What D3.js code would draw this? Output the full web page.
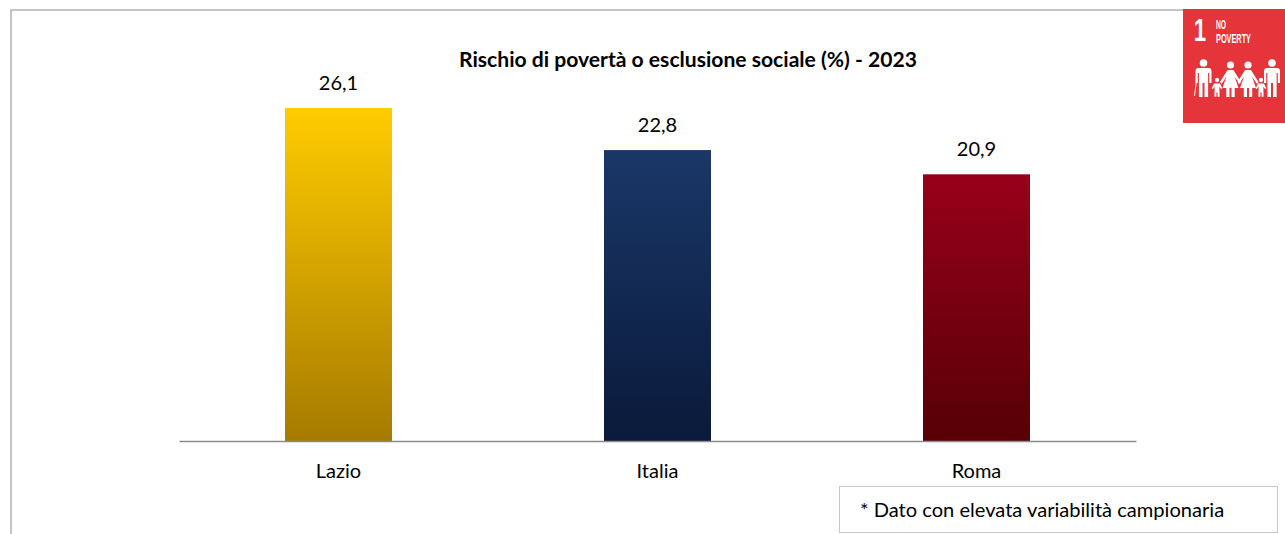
<!DOCTYPE html>
<html><head><meta charset="utf-8">
<script src="https://cdn.jsdelivr.net/npm/d3@7"></script>
<style>html,body{margin:0;padding:0;background:#fff}svg{display:block}text{font-family:Lato,Carlito,sans-serif}</style>
</head><body><svg id="c" width="1285" height="534"></svg>
<script>
const categories = ["Lazio","Italia","Roma"];
const values = [26.1,22.8,20.9];
const valueLabels = ["26,1","22,8","20,9"];
const topColors = ["#FFCC00","#1A3768","#98001A"];
const bottomColors = ["#A67A00","#0A1A3A","#560005"];
const chartTitle = "Rischio di povertà o esclusione sociale (%) - 2023";
const noteText = "* Dato con elevata variabilità campionaria";

const svg = d3.select("#c");
const x = d3.scaleBand().domain(categories).range([179,1136]).paddingInner(0.6646).paddingOuter(0.3323);
const y = d3.scaleLinear().domain([0,30]).range([441,58.2]);

const defs = svg.append("defs");
categories.forEach((c,i)=>{
  const g = defs.append("linearGradient").attr("id","g"+i).attr("x1",0).attr("y1",0).attr("x2",0).attr("y2",1);
  g.append("stop").attr("offset","0%").attr("stop-color",topColors[i]);
  g.append("stop").attr("offset","100%").attr("stop-color",bottomColors[i]);
});

// outer frame
svg.append("path").attr("d","M11 534V10H1183").attr("fill","none").attr("stroke","#c4c4c4").attr("stroke-width",2);

// title
svg.append("text").attr("x",688).attr("y",66.5).attr("text-anchor","middle")
  .attr("font-size",21.1).attr("font-weight",700).attr("fill","#000").text(chartTitle);

// bars
svg.selectAll("rect.bar").data(values).join("rect").attr("class","bar")
  .attr("x",(d,i)=>x(categories[i])).attr("width",x.bandwidth())
  .attr("y",d=>y(d)).attr("height",d=>y(0)-y(d))
  .attr("fill",(d,i)=>`url(#g${i})`);

// value labels
svg.selectAll("text.val").data(values).join("text").attr("class","val")
  .attr("x",(d,i)=>x(categories[i])+x.bandwidth()/2).attr("y",d=>y(d)-18)
  .attr("text-anchor","middle").attr("font-size",20).attr("fill","#000")
  .text((d,i)=>valueLabels[i]);

// axis
const axis = svg.append("g").attr("transform",`translate(0,${y(0)})`).call(d3.axisBottom(x).tickSize(0).tickPadding(23));
axis.select(".domain").attr("stroke","#8c8c8c").attr("stroke-width",1.5);
axis.selectAll("text").attr("font-size",20).attr("fill","#000").style("font-family","Lato,Carlito,sans-serif");

// note box
svg.append("rect").attr("x",839.5).attr("y",486.5).attr("width",438).attr("height",46).attr("fill","#fff").attr("stroke","#c8c8c8").attr("stroke-width",1);
svg.append("text").attr("x",860).attr("y",517).attr("font-size",20.1).attr("fill","#000").text(noteText);

// SDG icon
const icon = svg.append("g");
icon.append("rect").attr("x",1183).attr("y",9).attr("width",102).attr("height",114).attr("fill","#E5343A");
icon.append("text").attr("transform","translate(1200,41) scale(0.72,1)").attr("text-anchor","middle").attr("font-size",31).attr("font-weight",700)
  .attr("fill","#fff").style("font-family","'Liberation Sans',sans-serif").text("1");
icon.selectAll("text.nm").data(["NO","POVERTY"]).join("text").attr("class","nm")
  .attr("x",1216).attr("y",(d,i)=>i?43:29).attr("font-size",12.5).attr("font-weight",700).attr("fill","#fff")
  .attr("textLength",(d,i)=>i?35:10).attr("lengthAdjust","spacingAndGlyphs")
  .style("font-family","'Liberation Sans Narrow','Liberation Sans',sans-serif").text(d=>d);

// family figures: [cx, headY, scale, kind]
const people = [[1203.5,63,1,"m"],[1217,80,.6,"c"],[1230.5,65,1,"w"],[1248,65,1,"w"],[1261,80,.6,"c"],[1272,63,1,"m"]];
const shape = {
  m:"M-5 5 H5 Q8 5 8 8 V20 H5.8 V10 H4.6 V34 H1 V20 H-1 V34 H-4.6 V10 H-5.8 V20 H-8 V8 Q-8 5 -5 5Z",
  w:"M-3 5 H3 L10.5 17 L9 19 L4 11.5 L8 23 H4.2 V32 H1 V23 H-1 V32 H-4.2 V23 H-8 L-4 11.5 L-9 19 L-10.5 17Z",
  c:"M-5 6 H5 L9 14 L7 15.5 L4 11 V19 H4.2 V28 H1 V21 H-1 V28 H-4.2 V19 H-4 V11 L-7 15.5 L-9 14Z"
};
people.forEach(([cx,cy,s,k])=>{
  const g = icon.append("g").attr("transform",`translate(${cx},${cy}) scale(${s})`).attr("fill","#fff");
  g.append("circle").attr("r",k==="m"?3.8:3.6);
  g.append("path").attr("d",shape[k]);
});
icon.append("path").attr("d","M1196.5 80 L1194.5 96").attr("stroke","#fff").attr("stroke-width",1).attr("fill","none");
</script></body></html>
